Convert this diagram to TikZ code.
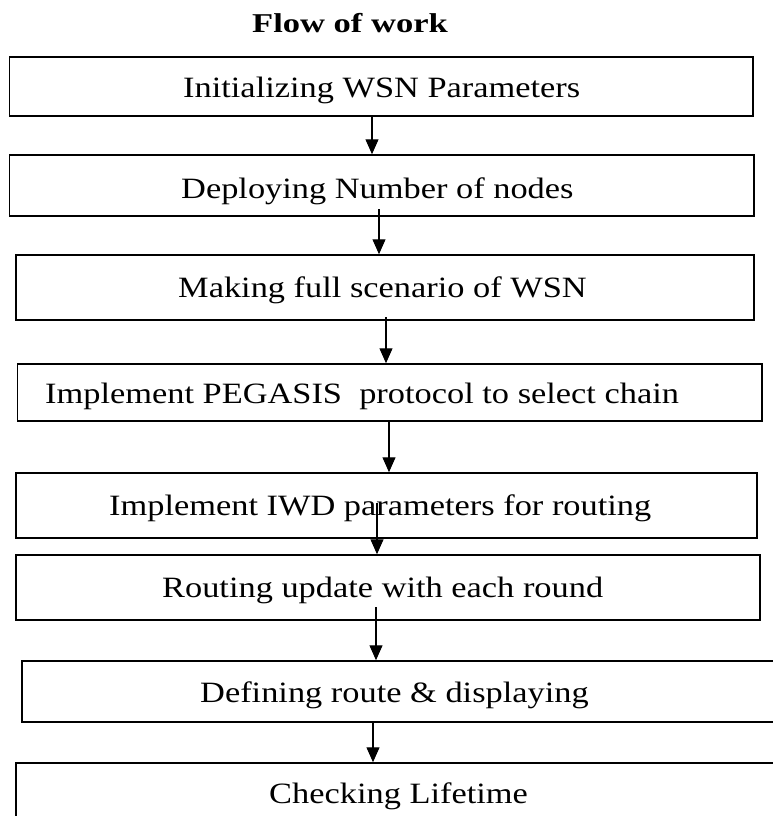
\documentclass[tikz,border=0pt]{standalone}
\usepackage{fontspec}
\setmainfont{Liberation Serif}[FakeStretch=1.165]
\newfontfamily\titlefont{Liberation Serif}[FakeStretch=1.27]
\usetikzlibrary{arrows.meta}
\tikzset{
  box/.style={draw=black, line width=1.5pt, rectangle, inner sep=0pt, fill=none},
  lbl/.style={anchor=base west, inner sep=0pt, font=\fontsize{29.5}{31}\selectfont},
  ttl/.style={anchor=base west, inner sep=0pt, font=\titlefont\bfseries\fontsize{27.2}{29}\selectfont},
  arr/.style={line width=1.2pt, -{Triangle[width=13pt,length=15pt]}}
}
\begin{document}
\begin{tikzpicture}[x=1pt,y=-1pt]
\useasboundingbox (0,0) rectangle (773,816);
\node[ttl] (title) at (252,33) {Flow of work};
\node[box, minimum width=743.5pt, minimum height=59pt] (b1) at (381.25,86.5) {};
\node[box, minimum width=744.5pt, minimum height=61pt] (b2) at (381.75,185.5) {};
\node[box, minimum width=738pt, minimum height=65pt] (b3) at (385,287.5) {};
\node[box, minimum width=744.3pt, minimum height=57pt] (b4) at (389.85,392.5) {};
\node[box, minimum width=741pt, minimum height=65pt] (b5) at (386.5,505.5) {};
\node[box, minimum width=744pt, minimum height=65pt] (b6) at (388,587.5) {};
\node[box, minimum width=768pt, minimum height=61pt] (b7) at (406,691.5) {};
\node[box, minimum width=774pt, minimum height=77pt] (b8) at (403,801.5) {};
\node[lbl] (l1) at (183,97) {Initializing WSN Parameters};
\node[lbl] (l2) at (181,198) {Deploying Number of nodes};
\node[lbl] (l3) at (178,297) {Making full scenario of WSN};
\node[lbl] (l4) at (45,403) {Implement PEGASIS\ \ protocol to select chain};
\node[lbl] (l5) at (109,515) {Implement IWD parameters for routing};
\node[lbl] (l6) at (162,597) {Routing update with each round};
\node[lbl] (l7) at (200,702) {Defining route \& displaying};
\node[lbl] (l8) at (269,803) {Checking Lifetime};
\coordinate (s1) at (372,116);
\coordinate (s2) at (379,209);
\coordinate (s3) at (386,317);
\coordinate (s4) at (389,421);
\coordinate (s5) at (377,503);
\coordinate (s6) at (376,607);
\coordinate (s7) at (373,722);
\draw[arr] (s1) -- (s1 |- b2.north);
\draw[arr] (s2) -- (s2 |- b3.north);
\draw[arr] (s3) -- (s3 |- b4.north);
\draw[arr] (s4) -- (s4 |- b5.north);
\draw[arr] (s5) -- (s5 |- b6.north);
\draw[arr] (s6) -- (s6 |- b7.north);
\draw[arr] (s7) -- (s7 |- b8.north);
\end{tikzpicture}
\end{document}
